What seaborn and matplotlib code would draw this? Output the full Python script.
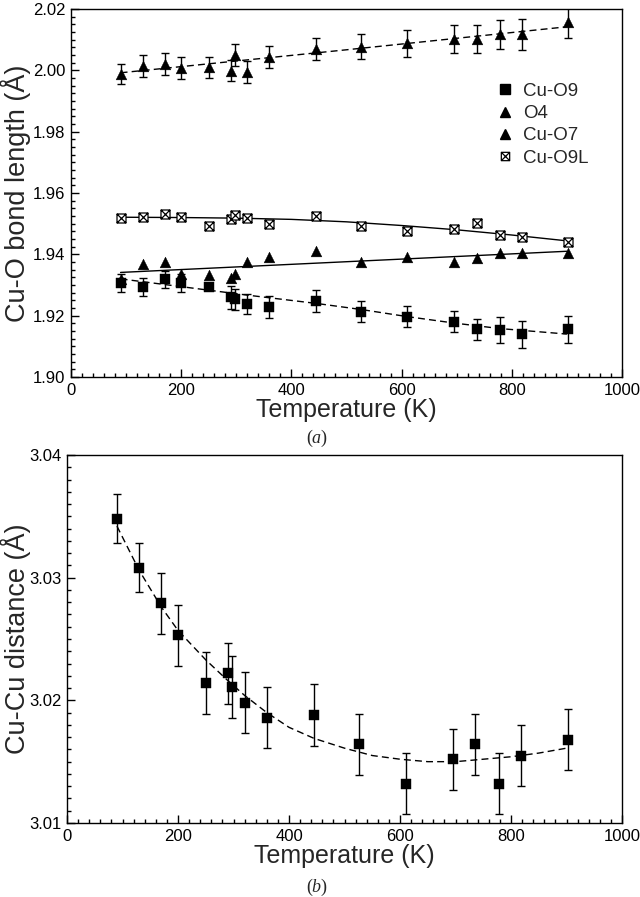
import numpy as np
import pandas as pd
import matplotlib
matplotlib.use("Agg")
import matplotlib.pyplot as plt
import seaborn as sns
from matplotlib.path import Path
from matplotlib.lines import Line2D
from matplotlib.ticker import MultipleLocator, FormatStrFormatter

# ---------------- data ----------------
temps = [90, 130, 170, 200, 250, 290, 297, 320, 360, 445, 527, 610, 695, 736, 778, 818, 902]

cu_o9 = [1.9306, 1.9293, 1.9319, 1.9306, 1.9295, 1.9260, 1.9253, 1.9237, 1.9229, 1.9248,
         1.9213, 1.9197, 1.9180, 1.9156, 1.9153, 1.9139, 1.9156]
cu_o9_err = [0.0030, 0.0030, 0.0028, 0.0030, 0.0, 0.0038, 0.0035, 0.0033, 0.0035, 0.0035,
             0.0034, 0.0035, 0.0034, 0.0034, 0.0043, 0.0045, 0.0044]

o4 = [1.9988, 2.0014, 2.0021, 2.0007, 2.0010, 1.9999, 2.0050, 1.9996, 2.0044, 2.0069,
      2.0077, 2.0088, 2.0102, 2.0101, 2.0117, 2.0117, 2.0157]
o4_err = [0.0034, 0.0035, 0.0036, 0.0035, 0.0035, 0.0035, 0.0035, 0.0036, 0.0035, 0.0035,
          0.0040, 0.0045, 0.0046, 0.0046, 0.0048, 0.0050, 0.0050]

cu_o7 = [1.9318, 1.9368, 1.9376, 1.9337, 1.9332, 1.9323, 1.9335, 1.9374, 1.9392, 1.9412,
         1.9376, 1.9392, 1.9376, 1.9387, 1.9403, 1.9403, 1.9403]

cu_o9l = [1.9520, 1.9521, 1.9533, 1.9523, 1.9493, 1.9514, 1.9528, 1.9520, 1.9498, 1.9526,
          1.9491, 1.9475, 1.9482, 1.9503, 1.9462, 1.9456, 1.9439]

# fitted curves
o4_fit_t = [90, 500, 900]
o4_fit = [1.9992, 2.0067, 2.0142]
o7_fit_t = [90, 900]
o7_fit = [1.9341, 1.9410]
o9l_fit_t = [90, 200, 300, 400, 500, 600, 700, 800, 900]
o9l_fit = [1.9521, 1.9520, 1.9518, 1.9514, 1.9506, 1.9494, 1.9480, 1.9463, 1.9444]
o9_fit_t = [90, 320, 445, 527, 610, 695, 778, 900]
o9_fit = [1.9320, 1.9267, 1.9240, 1.9220, 1.9197, 1.9176, 1.9158, 1.9140]

cucu = [3.0348, 3.0308, 3.0279, 3.0253, 3.0214, 3.0222, 3.0211, 3.0198, 3.0186, 3.0188,
        3.0164, 3.0132, 3.0152, 3.0164, 3.0132, 3.0155, 3.0168]
cucu_err = [0.0020, 0.0020, 0.0025, 0.0025, 0.0025, 0.0025, 0.0025, 0.0025, 0.0025, 0.0025,
            0.0025, 0.0025, 0.0025, 0.0025, 0.0025, 0.0025, 0.0025]
cucu_fit_t = [90, 130, 170, 200, 250, 290, 320, 360, 400, 445, 500, 550, 600, 650, 700, 750,
              800, 850, 900]
cucu_fit = [3.0342, 3.0306, 3.0276, 3.0257, 3.0233, 3.0216, 3.0204, 3.0190, 3.0178, 3.0169,
            3.0161, 3.0155, 3.0152, 3.0150, 3.0150, 3.0152, 3.0154, 3.0157, 3.0161]

legend_labels = ["Cu-O9", "O4", "Cu-O7", "Cu-O9L"]

# ---------------- style ----------------
sns.set_style("ticks")
plt.rcParams["font.family"] = ["Liberation Sans", "DejaVu Sans"]
plt.rcParams["mathtext.fontset"] = "custom"
plt.rcParams["mathtext.rm"] = "Liberation Serif"
plt.rcParams["mathtext.it"] = "Liberation Serif:italic"

boxx = Path([(-1, -1), (1, -1), (1, 1), (-1, 1), (-1, -1),
             (-1, -1), (1, 1), (-1, 1), (1, -1)],
            [Path.MOVETO, Path.LINETO, Path.LINETO, Path.LINETO, Path.CLOSEPOLY,
             Path.MOVETO, Path.LINETO, Path.MOVETO, Path.LINETO])

DASH = (0, (5, 3))
TICK_FS = 12

fig = plt.figure(figsize=(6.4, 8.97), dpi=100)
ax1 = fig.add_axes([71 / 640, 1 - 377 / 897, 551 / 640, 368 / 897])
ax2 = fig.add_axes([67 / 640, 1 - 823 / 897, 555 / 640, 368 / 897])


def style_axes(ax, ymaj, ymin, yfmt):
    ax.set_xlim(0, 1000)
    ax.xaxis.set_major_locator(MultipleLocator(200))
    ax.xaxis.set_minor_locator(MultipleLocator(20))
    ax.yaxis.set_major_locator(MultipleLocator(ymaj))
    ax.yaxis.set_minor_locator(MultipleLocator(ymin))
    ax.yaxis.set_major_formatter(FormatStrFormatter(yfmt))
    ax.tick_params(which="both", direction="in", top=False, right=False,
                   colors="black", width=1.0)
    ax.tick_params(which="major", length=5.5, pad=4, labelsize=TICK_FS)
    ax.tick_params(which="minor", length=3)
    for sp in ax.spines.values():
        sp.set_visible(True)
        sp.set_color("black")
        sp.set_linewidth(1.0)
    ax.grid(False)


def draw_line(ax, x, y, ls):
    sns.lineplot(x=x, y=y, ax=ax, color="black", linewidth=1.0, linestyle=ls,
                 zorder=2, estimator=None, sort=False)


# ---------------- panel (a) ----------------
draw_line(ax1, o4_fit_t, o4_fit, DASH)
draw_line(ax1, o7_fit_t, o7_fit, "-")
draw_line(ax1, o9l_fit_t, o9l_fit, "-")
draw_line(ax1, o9_fit_t, o9_fit, DASH)

ax1.errorbar(temps, o4, yerr=o4_err, fmt="none", ecolor="black", elinewidth=1.0,
             capsize=2.8, capthick=1.0, zorder=3)
ax1.errorbar(temps, cu_o9, yerr=cu_o9_err, fmt="none", ecolor="black", elinewidth=1.0,
             capsize=2.8, capthick=1.0, zorder=3)

sns.scatterplot(x=temps, y=o4, ax=ax1, marker="^", s=60, color="black",
                edgecolor="black", linewidth=0.3, zorder=4)
sns.scatterplot(x=temps, y=cu_o7, ax=ax1, marker="^", s=60, color="black",
                edgecolor="black", linewidth=0.3, zorder=4)
sns.scatterplot(x=temps, y=cu_o9, ax=ax1, marker="s", s=50, color="black",
                edgecolor="black", linewidth=0.3, zorder=4)
sns.scatterplot(x=temps, y=cu_o9l, ax=ax1, marker=boxx, s=42, color="white",
                edgecolor="black", linewidth=0.9, zorder=4)

style_axes(ax1, 0.02, 0.0025, "%.2f")
ax1.set_ylim(1.90, 2.02)
ax1.set_xlabel("Temperature (K)", fontsize=18, va="center")
ax1.xaxis.set_label_coords(0.5, -0.09)
ax1.set_ylabel("Cu-O bond length (Å)", fontsize=19.5, va="center")
ax1.yaxis.set_label_coords(-0.10, 0.5)

handles = [
    Line2D([], [], ls="none", marker="s", color="black", markersize=6.5),
    Line2D([], [], ls="none", marker="^", color="black", markersize=7),
    Line2D([], [], ls="none", marker="^", color="black", markersize=7),
    Line2D([], [], ls="none", marker=boxx, markerfacecolor="white",
           markeredgecolor="black", markeredgewidth=0.9, markersize=6),
]
ax1.legend(handles, legend_labels, loc="upper left", bbox_to_anchor=(0.77, 0.80),
           frameon=False, fontsize=13.5, handlelength=1.0, handletextpad=0.5,
           labelspacing=0.28, borderpad=0, borderaxespad=0)

# ---------------- panel (b) ----------------
draw_line(ax2, cucu_fit_t, cucu_fit, DASH)
ax2.errorbar(temps, cucu, yerr=cucu_err, fmt="none", ecolor="black", elinewidth=1.0,
             capsize=2.8, capthick=1.0, zorder=3)
sns.scatterplot(x=temps, y=cucu, ax=ax2, marker="s", s=55, color="black",
                edgecolor="black", linewidth=0.3, zorder=4)

style_axes(ax2, 0.01, 0.001, "%.2f")
ax2.set_ylim(3.01, 3.04)
ax2.set_xlabel("Temperature (K)", fontsize=18, va="center")
ax2.xaxis.set_label_coords(0.5, -0.09)
ax2.set_ylabel("Cu-Cu distance (Å)", fontsize=19.5, va="center")
ax2.yaxis.set_label_coords(-0.092, 0.5)

fig.text(317 / 640, 1 - 438 / 897, r"$(\mathit{a})$", ha="center", va="center", fontsize=13)
fig.text(317 / 640, 1 - 887 / 897, r"$(\mathit{b})$", ha="center", va="center", fontsize=13)

fig.savefig("out.png", dpi=100, facecolor="white")
